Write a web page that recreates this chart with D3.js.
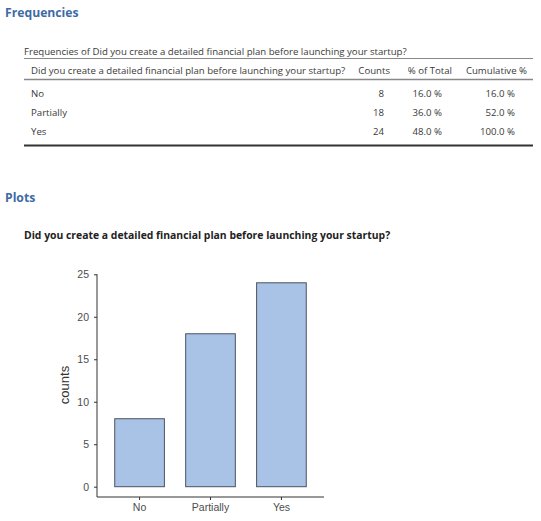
<!DOCTYPE html>
<html>
<head>
  <meta charset="utf-8">
  <script src="https://d3js.org/d3.v7.min.js"></script>
  <style>
    body { margin: 0; background: #fff; }
    text { font-family: "Open Sans", sans-serif; }
  </style>
</head>
<body>
  <script type="text/javascript">
    // Data
    var question = "Did you create a detailed financial plan before launching your startup?";
    var categories = ["No", "Partially", "Yes"];
    var counts = [8, 18, 24];
    var pctTotal = ["16.0 %", "36.0 %", "48.0 %"];
    var pctCumulative = ["16.0 %", "52.0 %", "100.0 %"];
    var headers = [question, "Counts", "% of Total", "Cumulative %"];
    var yTicks = [0, 5, 10, 15, 20, 25];

    var width = 541, height = 521;
    var blue = "#3e6ba6";
    var ink = "#3a3a3a";
    var tableSize = "9.65px";

    var svg = d3.select("body").append("svg")
      .attr("width", width)
      .attr("height", height);

    // ********** Frequencies table **********
    svg.append("text")
      .attr("x", 5).attr("y", 17)
      .style("font-size", "12.2px").style("font-weight", "bold")
      .style("fill", blue)
      .text("Frequencies");

    svg.append("text")
      .attr("x", 24).attr("y", 55)
      .style("font-size", tableSize).style("fill", ink)
      .text("Frequencies of " + question);

    // Table rules
    svg.append("line").attr("x1", 24).attr("x2", 533).attr("y1", 58.5).attr("y2", 58.5)
      .style("stroke", "#888").style("stroke-width", 1);
    svg.append("line").attr("x1", 24).attr("x2", 533).attr("y1", 79.5).attr("y2", 79.5)
      .style("stroke", "#888").style("stroke-width", 1.3);
    svg.append("line").attr("x1", 24).attr("x2", 533).attr("y1", 145.5).attr("y2", 145.5)
      .style("stroke", "#333").style("stroke-width", 1.8);

    // Header row: first col left, others right aligned
    var headerX = [31, 390, 452, 527];
    svg.selectAll("text.hdr")
      .data(headers)
      .enter()
      .append("text")
      .attr("class", "hdr")
      .attr("x", function(d, i) { return headerX[i]; })
      .attr("y", 73.5)
      .style("text-anchor", function(d, i) { return i === 0 ? "start" : "end"; })
      .style("font-size", tableSize).style("fill", ink)
      .text(function(d) { return d; });

    var rowY = d3.scaleBand().domain(categories).range([84, 141]);
    var rows = svg.selectAll("g.row")
      .data(categories)
      .enter()
      .append("g")
      .attr("class", "row")
      .attr("transform", function(d) { return "translate(0," + (rowY(d) + rowY.bandwidth() / 2 + 3.5) + ")"; });

    rows.append("text").attr("x", 31).text(function(d) { return d; });
    rows.append("text").attr("x", 384).style("text-anchor", "end")
      .text(function(d, i) { return counts[i]; });
    rows.append("text").attr("x", 442).style("text-anchor", "end")
      .text(function(d, i) { return pctTotal[i]; });
    rows.append("text").attr("x", 515).style("text-anchor", "end")
      .text(function(d, i) { return pctCumulative[i]; });
    rows.selectAll("text").style("font-size", tableSize).style("fill", ink);

    // ********** Plots **********
    svg.append("text")
      .attr("x", 5).attr("y", 202)
      .style("font-size", "12.2px").style("font-weight", "bold")
      .style("fill", blue)
      .text("Plots");

    svg.append("text")
      .attr("x", 24).attr("y", 239)
      .style("font-size", "10.4px").style("font-weight", "bold")
      .style("fill", "#222")
      .text(question);

    // Bar chart
    var axisLeft = 97, axisRight = 324, axisBottom = 497;
    var x = d3.scaleBand()
      .domain(categories)
      .range([axisLeft, axisRight])
      .paddingInner(0.3)
      .paddingOuter(0.25);
    var y = d3.scaleLinear()
      .domain([0, 25])
      .range([486.7, 274.3]);

    var chart = svg.append("g");

    chart.selectAll("rect.bar")
      .data(categories)
      .enter()
      .append("rect")
      .attr("class", "bar")
      .attr("x", function(d) { return x(d); })
      .attr("width", x.bandwidth())
      .attr("y", function(d, i) { return y(counts[i]); })
      .attr("height", function(d, i) { return y(0) - y(counts[i]); })
      .style("fill", "#a8c3e6")
      .style("stroke", "#4a5260")
      .style("stroke-width", 1);

    // Y axis
    var gy = chart.append("g")
      .attr("transform", "translate(" + axisLeft + ",0)")
      .call(d3.axisLeft(y).tickValues(yTicks).tickSize(3).tickPadding(5));
    gy.select(".domain").remove();
    gy.append("line")
      .attr("x1", 0).attr("x2", 0)
      .attr("y1", y(25)).attr("y2", axisBottom)
      .style("stroke", "#333");

    // X axis
    var gx = chart.append("g")
      .attr("transform", "translate(0," + axisBottom + ")")
      .call(d3.axisBottom(x).tickSize(3).tickPadding(4));
    gx.select(".domain").remove();
    gx.append("line")
      .attr("x1", axisLeft).attr("x2", axisRight)
      .attr("y1", 0).attr("y2", 0)
      .style("stroke", "#333");

    chart.selectAll(".tick line").style("stroke", "#333");
    chart.selectAll(".tick text")
      .style("font-family", "'Liberation Sans', Arial, sans-serif")
      .style("font-size", "10.5px")
      .style("fill", "#4d4d4d");

    // Y title
    svg.append("text")
      .attr("transform", "translate(69,385) rotate(-90)")
      .style("text-anchor", "middle")
      .style("font-family", "'Liberation Sans', Arial, sans-serif")
      .style("font-size", "13px")
      .style("fill", "#333")
      .text("counts");
  </script>
</body>
</html>
